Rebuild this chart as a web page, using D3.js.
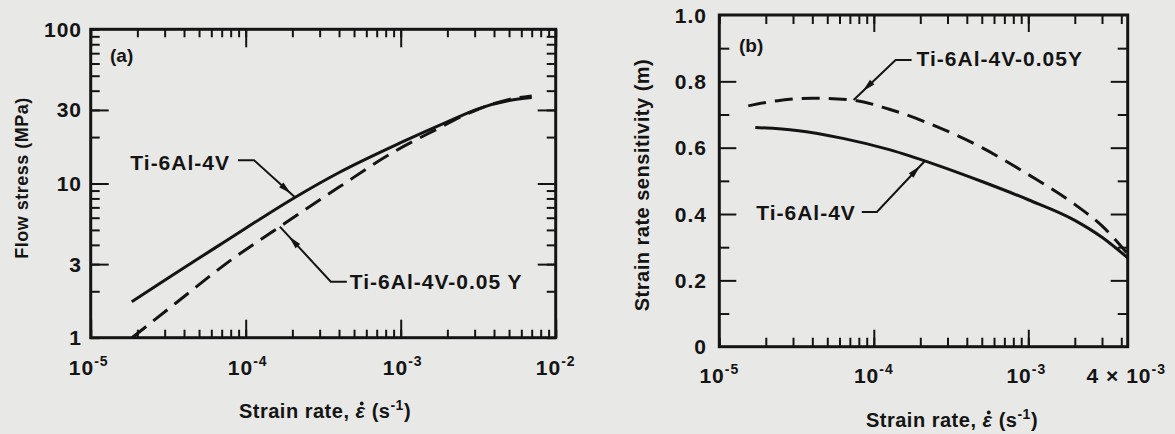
<!DOCTYPE html>
<html><head><meta charset="utf-8">
<script src="https://cdn.jsdelivr.net/npm/d3@7"></script>
<style>
html,body{margin:0;padding:0;background:#e8e8e6;}
svg{display:block;}
text{font-family:"Liberation Sans",Arial,Helvetica,sans-serif;font-weight:bold;fill:#141414;}
</style></head><body>
<svg id="chart" width="1175" height="434"></svg>
<script>
// ---------- data: panel (a) flow stress (MPa) vs strain rate (1/s) ----------
const aSolidStrain = [1.84e-5, 3.16e-5, 6.31e-5, 1e-4, 2e-4, 3.98e-4, 1e-3, 2e-3, 3.16e-3, 5.01e-3, 7e-3];
const aSolidStress = [1.71, 2.44, 3.81, 5.13, 7.94, 11.75, 18.4, 25.1, 30.5, 34.5, 36.1];
const aDashStrain  = [1.85e-5, 3.55e-5, 7.94e-5, 1.78e-4, 3.98e-4, 8.51e-4, 1.58e-3, 3.16e-3, 5.01e-3, 7e-3];
const aDashStress  = [1.0, 1.68, 3.16, 5.50, 9.44, 15.5, 21.6, 30.3, 35.1, 37.0];
const aXTicks = [1e-5, 1e-4, 1e-3, 1e-2];
const aXTickExp = ["-5", "-4", "-3", "-2"];
const aYTicks = [1, 3, 10, 30, 100];
const aYTickLabels = ["1", "3", "10", "30", "100"];
const aYMajor = [3, 10, 30];

// ---------- data: panel (b) strain rate sensitivity m vs strain rate ----------
const bSolidStrain = [1.71e-5, 3.16e-5, 6.31e-5, 1.26e-4, 2.51e-4, 5.01e-4, 1e-3, 2e-3, 3e-3, 4.4e-3];
const bSolidM      = [0.661, 0.652, 0.628, 0.594, 0.549, 0.498, 0.443, 0.381, 0.330, 0.268];
const bDashStrain  = [1.54e-5, 2.51e-5, 3.98e-5, 7.08e-5, 1.26e-4, 2.51e-4, 5.01e-4, 1e-3, 2e-3, 3e-3, 4.4e-3];
const bDashM       = [0.726, 0.743, 0.749, 0.744, 0.716, 0.665, 0.600, 0.519, 0.429, 0.364, 0.280];
const bXTicks = [1e-5, 1e-4, 1e-3, 4e-3];
const bXTickBase = ["10", "10", "10", "4 \u00d7 10"];
const bXTickExp = ["-5", "-4", "-3", "-3"];
const bYTicks = [0, 0.2, 0.4, 0.6, 0.8, 1.0];
const bYTickLabels = ["0", "0.2", "0.4", "0.6", "0.8", "1.0"];
const bYMinor = [0.1, 0.3, 0.5, 0.7, 0.9];
const bYMajor = [0.2, 0.4, 0.6, 0.8];
const bXMajor = [1e-4, 1e-3];

const ink = "#141414";
const svg = d3.select("#chart");

// ---------- scales ----------
const xA = d3.scaleLog().domain([1e-5, 1e-2]).range([90.7, 555.7]);
const yA = d3.scaleLog().domain([1, 100]).range([337.7, 29.3]);
const xB = d3.scaleLog().domain([1e-5, 4.4e-3]).range([719.3, 1127.7]);
const yB = d3.scaleLinear().domain([0, 1]).range([346.7, 15]);

function tickGroup(parent, axisFn, scale, values, size, transform) {
  const g = parent.append("g").attr("transform", transform).attr("color", ink)
    .call(axisFn(scale).tickValues(values).tickSize(-size).tickFormat(""));
  g.select(".domain").remove();
  g.selectAll(".tick line").attr("stroke-width", 2);
  return g;
}

function frameAxes(x, y, xMinor, xMajor, yMinor, yMajor, minorLen, majorLen) {
  const [x0, x1] = x.range(), [y0, y1] = y.range();
  const g = svg.append("g");
  tickGroup(g, d3.axisBottom, x, xMinor, minorLen, `translate(0,${y0})`);
  tickGroup(g, d3.axisBottom, x, xMajor, majorLen, `translate(0,${y0})`);
  tickGroup(g, d3.axisTop, x, xMinor, minorLen, `translate(0,${y1})`);
  tickGroup(g, d3.axisTop, x, xMajor, majorLen, `translate(0,${y1})`);
  tickGroup(g, d3.axisLeft, y, yMinor, minorLen + 1, `translate(${x0},0)`);
  tickGroup(g, d3.axisLeft, y, yMajor, majorLen, `translate(${x0},0)`);
  tickGroup(g, d3.axisRight, y, yMinor, minorLen + 1, `translate(${x1},0)`);
  tickGroup(g, d3.axisRight, y, yMajor, majorLen, `translate(${x1},0)`);
  g.append("rect").attr("x", x0).attr("y", y1).attr("width", x1 - x0).attr("height", y0 - y1)
    .attr("fill", "none").attr("stroke", ink).attr("stroke-width", 3);
}

frameAxes(xA, yA, xA.ticks(), aXTicks, yA.ticks(), aYMajor, 8, 18);
frameAxes(xB, yB, xB.ticks(), bXMajor, bYMinor, bYMajor, 9, 17);

// ---------- curves ----------
function drawCurve(x, y, xs, ys, dashed) {
  const pts = xs.map((v, i) => [v, ys[i]]);
  svg.append("path").datum(pts)
    .attr("d", d3.line().x(d => x(d[0])).y(d => y(d[1])).curve(d3.curveMonotoneX))
    .attr("fill", "none").attr("stroke", ink).attr("stroke-width", 3)
    .attr("stroke-dasharray", dashed ? "18,9" : null);
}
drawCurve(xA, yA, aSolidStrain, aSolidStress, false);
drawCurve(xA, yA, aDashStrain, aDashStress, true);
drawCurve(xB, yB, bSolidStrain, bSolidM, false);
drawCurve(xB, yB, bDashStrain, bDashM, true);

// ---------- tick labels ----------
const tickFont = 21;
function xLabels(x, vals, bases, exps, baseY, dxList) {
  vals.forEach((v, i) => {
    const t = svg.append("text").attr("x", x(v) + dxList[i]).attr("y", baseY)
      .attr("text-anchor", "middle").attr("font-size", tickFont).attr("letter-spacing", 1);
    t.append("tspan").text(bases[i]);
    t.append("tspan").attr("dy", -9).attr("font-size", 14).text(exps[i]);
  });
}
xLabels(xA, aXTicks, aXTicks.map(() => "10"), aXTickExp, 375, [-2, 2, 2, 0]);
xLabels(xB, bXTicks, bXTickBase, bXTickExp, 383, [0, 0, -2, 5]);

function yLabels(y, vals, labels, rightX) {
  vals.forEach((v, i) => {
    svg.append("text").attr("x", rightX).attr("y", y(v)).attr("dy", "0.36em")
      .attr("text-anchor", "end").attr("font-size", tickFont).attr("letter-spacing", 1)
      .text(labels[i]);
  });
}
yLabels(yA, aYTicks, aYTickLabels, 82);
yLabels(yB, bYTicks, bYTickLabels, 707);

// ---------- axis titles ----------
function xTitle(cx, by) {
  const t = svg.append("text").attr("x", cx).attr("y", by).attr("text-anchor", "middle")
    .attr("font-size", 20).attr("letter-spacing", 0.5);
  t.append("tspan").text("Strain rate, ");
  t.append("tspan").attr("font-style", "italic").text("\u03b5");
  t.append("tspan").text(" (s");
  t.append("tspan").attr("dy", -8).attr("font-size", 14).text("-1");
  t.append("tspan").attr("dy", 8).text(")");
  // dot above epsilon (time derivative)
  const idx = "Strain rate, ".length;
  try {
    const ext = t.node().getExtentOfChar(idx);
    svg.append("circle").attr("cx", ext.x + ext.width * 0.62).attr("cy", ext.y + 3.5)
      .attr("r", 1.9).attr("fill", ink);
  } catch (e) {}
}
xTitle(325, 418);
xTitle(952, 427);

svg.append("text").attr("transform", "translate(28,178) rotate(-90)").attr("text-anchor", "middle")
  .attr("font-size", 18).attr("letter-spacing", 0.5).text("Flow stress (MPa)");
svg.append("text").attr("transform", "translate(649,185) rotate(-90)").attr("text-anchor", "middle")
  .attr("font-size", 20).attr("letter-spacing", 0.5).text("Strain rate sensitivity (m)");

svg.append("text").attr("x", 110).attr("y", 62).attr("font-size", 19).text("(a)");
svg.append("text").attr("x", 739).attr("y", 52).attr("font-size", 19).text("(b)");

// ---------- annotations with leader lines ----------
function leader(tip, corner, hEnd, arrowT, label, anchor, labelX, labelY) {
  svg.append("polyline")
    .attr("points", [[hEnd, corner[1]], corner, tip].map(p => p.join(",")).join(" "))
    .attr("fill", "none").attr("stroke", ink).attr("stroke-width", 2);
  const dx = tip[0] - corner[0], dy = tip[1] - corner[1];
  const len = Math.hypot(dx, dy), ux = dx / len, uy = dy / len;
  const ax = corner[0] + dx * arrowT, ay = corner[1] + dy * arrowT;
  const L = 13, w = 3.2;
  const bx = ax - ux * L, by = ay - uy * L;
  svg.append("polygon")
    .attr("points", [[ax, ay], [bx - uy * w, by + ux * w], [bx + uy * w, by - ux * w]].map(p => p.join(",")).join(" "))
    .attr("fill", ink);
  svg.append("text").attr("x", labelX).attr("y", labelY).attr("text-anchor", anchor)
    .attr("font-size", tickFont).attr("letter-spacing", 1).text(label);
}
{
  const tip = [xA(2.08e-4), yA(8.15)];
  leader(tip, [tip[0] - 41, tip[1] - 37], tip[0] - 57, 0.9, "Ti-6Al-4V", "end", tip[0] - 65, tip[1] - 27);
}
{
  const tip = [xA(1.66e-4), yA(5.25)];
  leader(tip, [tip[0] + 51, tip[1] + 55], tip[0] + 67, 0.82, "Ti-6Al-4V-0.05 Y", "start", tip[0] + 70, tip[1] + 62);
}
{
  const tip = [xB(7.4e-5), yB(0.744)];
  leader(tip, [tip[0] + 42, tip[1] - 40], tip[0] + 58, 0.78, "Ti-6Al-4V-0.05Y", "start", tip[0] + 63, tip[1] - 34);
}
{
  const tip = [xB(2.14e-4), yB(0.56)];
  leader(tip, [tip[0] - 48, tip[1] + 51], tip[0] - 63, 0.9, "Ti-6Al-4V", "end", tip[0] - 69, tip[1] + 59);
}
</script>
</body></html>
